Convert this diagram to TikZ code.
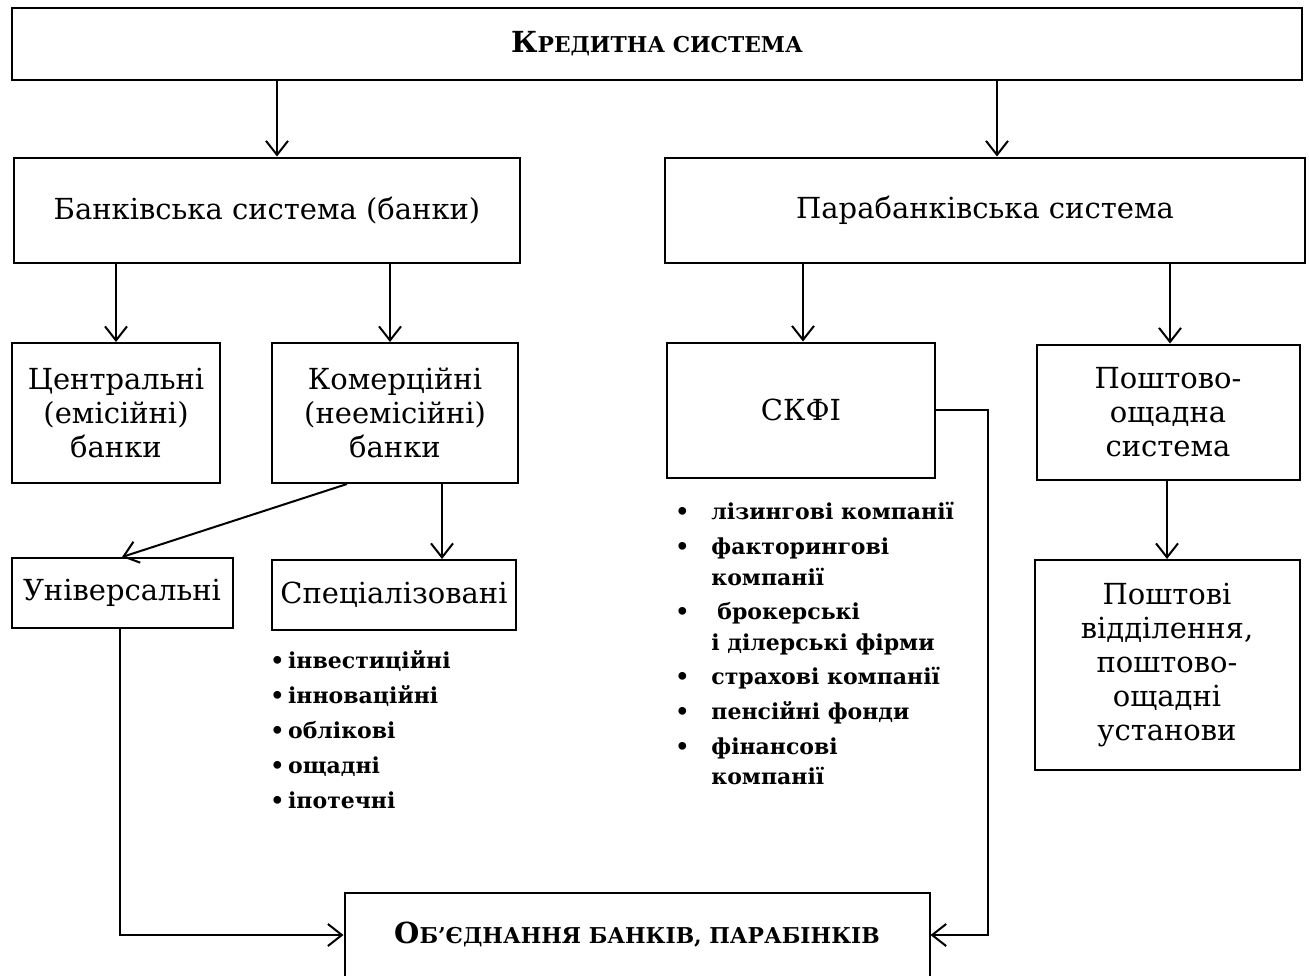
\documentclass[tikz,border=0pt]{standalone}
\usepackage{fontspec}
\setmainfont{DejaVu Serif}
\usetikzlibrary{arrows.meta}

% fake small caps: first letter big, the rest small
\newcommand{\smcap}[2]{\textbf{{\fontsize{14.5}{18}\selectfont #1}{\fontsize{10.9}{14}\selectfont #2}}}

\begin{document}
\begin{tikzpicture}[x=0.5pt,y=-0.5pt,
  box/.style={draw, line width=1pt, align=center, inner sep=2pt,
    font=\fontsize{14.5}{17}\selectfont},
  arr/.style={line width=1pt, -{Straight Barb[length=7pt,width=11pt,line width=1pt]}},
  lst/.style={anchor=north west, inner sep=0pt, font=\bfseries}]
\useasboundingbox (0,0) rectangle (1309,975);

% top level
\node[box, minimum width=645pt, minimum height=36pt] (kred) at (657,44) {\smcap{К}{РЕДИТНА СИСТЕМА}};
\node[box, minimum width=253pt, minimum height=52.5pt] (bank) at (267,210) {Банківська система (банки)};
\node[box, minimum width=320pt, minimum height=52.5pt] (para) at (985,210) {Парабанківська система};

% second level
\node[box, minimum width=104pt, minimum height=70pt] (centr) at (116,413) {Центральні\\(емісійні)\\банки};
\node[box, minimum width=123pt, minimum height=70pt] (komer) at (395,413) {Комерційні\\(неемісійні)\\банки};
\node[box, minimum width=134pt, minimum height=67.5pt] (skfi) at (801,410) {СКФІ};
\node[box, minimum width=131.5pt, minimum height=67.5pt] (posht) at (1168,412) {Поштово-\\ощадна\\система};

% third level
\node[box, minimum width=110.5pt, minimum height=35pt] (univ) at (122,593) {Універсальні};
\node[box, minimum width=122pt, minimum height=35pt] (spec) at (394,595) {Спеціалізовані};
\node[box, minimum width=132.5pt, minimum height=105pt] (viddil) at (1167,665) {Поштові\\відділення,\\поштово-\\ощадні\\установи};

% bottom
\node[box, minimum width=292.5pt, minimum height=42pt] (obed) at (637,935) {\smcap{О}{Б’ЄДНАННЯ БАНКІВ, ПАРАБІНКІВ}};

% lists
\node[lst] (speclist) at (270,644) {\fontsize{11}{17.5}\selectfont
  \begin{tabular}{@{}l@{}}
  \textbullet\,інвестиційні\\
  \textbullet\,інноваційні\\
  \textbullet\,облікові\\
  \textbullet\,ощадні\\
  \textbullet\,іпотечні
  \end{tabular}};
\node[lst] (skfilist) at (675,498) {\fontsize{11}{15.3}\selectfont
  \begin{tabular}{@{}p{18pt}@{}l@{}}
  \textbullet & лізингові компанії\\[2pt]
  \textbullet & факторингові\\
   & компанії\\[2pt]
  \textbullet & \hspace{3pt}брокерські\\
   & і ділерські фірми\\[2pt]
  \textbullet & страхові компанії\\[2pt]
  \textbullet & пенсійні фонди\\[2pt]
  \textbullet & фінансові\\
   & компанії
  \end{tabular}};

% connectors
\draw[arr] (kred.south -| 277,0) -- (bank.north -| 277,0);
\draw[arr] (kred.south -| 997,0) -- (para.north -| 997,0);
\draw[arr] (bank.south -| centr.north) -- (centr.north);
\draw[arr] (bank.south -| 390,0) -- (komer.north -| 390,0);
\draw[arr] (para.south -| 803,0) -- (skfi.north -| 803,0);
\draw[arr] (para.south -| 1170,0) -- (posht.north -| 1170,0);
\draw[arr] (komer.south -| 347,0) -- (univ.north);
\draw[arr] (komer.south -| 442,0) -- (spec.north -| 442,0);
\draw[arr] (posht.south -| viddil.north) -- (viddil.north);
\draw[arr] (univ.south -| 120,0) |- (obed.west);
\draw[arr] (skfi.east) -| (988,0 |- obed.east) -- (obed.east);
\end{tikzpicture}
\end{document}
